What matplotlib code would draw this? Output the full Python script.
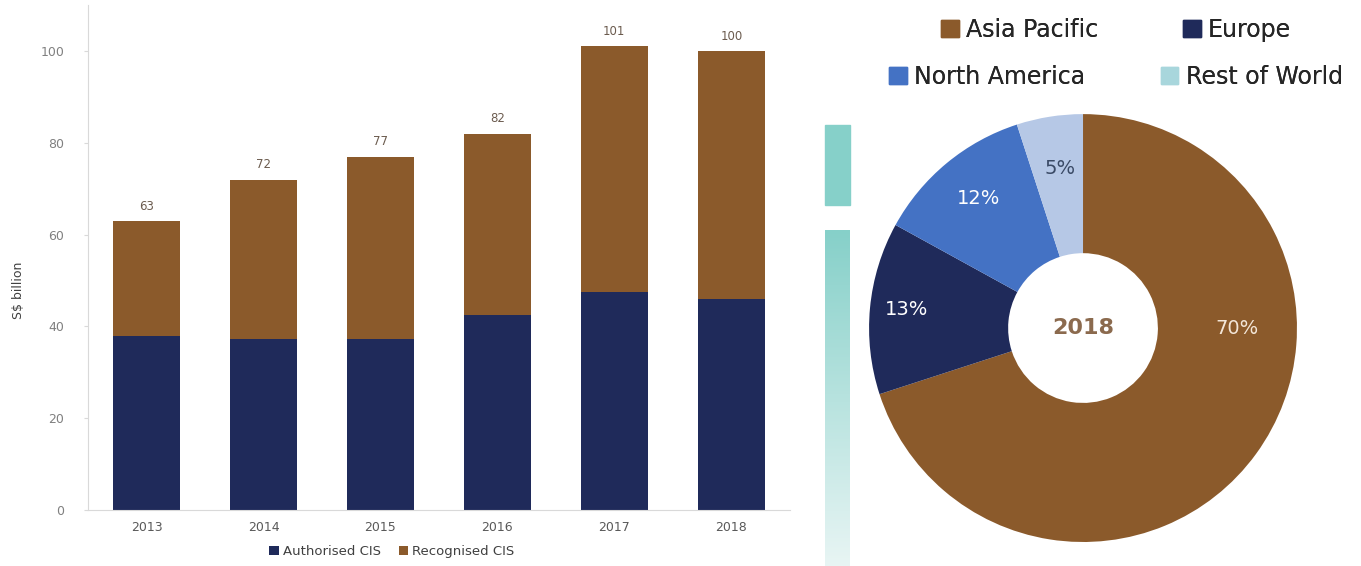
import matplotlib.pyplot as plt
import numpy as np
from matplotlib.colors import LinearSegmentedColormap
from matplotlib.patches import Patch, Rectangle

# Collective investment scheme assets, S$ billion
years = ['2013', '2014', '2015', '2016', '2017', '2018']
authorised = [38, 37.3, 37.3, 42.5, 47.5, 46]
recognised = [25, 34.7, 39.7, 39.5, 53.5, 54]
totals = [63, 72, 77, 82, 101, 100]

# Regional split of 2018 assets
regions = ['Asia Pacific', 'Europe', 'North America', 'Rest of World']
shares = [70, 13, 12, 5]

NAVY = '#1f2a5a'
BROWN = '#8b5a2b'
BLUE = '#4472c4'
PALE = '#b6c8e6'
CYAN = '#a8d6dc'


def main():
    fig = plt.figure(figsize=(13.61, 5.66), dpi=100)

    # Stacked bars
    ax = fig.add_axes([0.0647, 0.0989, 0.5156, 0.892])
    x = np.arange(len(years))
    ax.bar(x, authorised, width=0.57, color=NAVY, label='Authorised CIS')
    ax.bar(x, recognised, width=0.57, bottom=authorised, color=BROWN,
           label='Recognised CIS')
    for xi, tot in zip(x, totals):
        ax.annotate(f'{tot}', (xi, tot), xytext=(0, 6), textcoords='offset points',
                    ha='center', va='bottom', fontsize=8.5, color='#6b5b4e')
    ax.set_xlim(-0.5, len(years) - 0.5)
    ax.set_ylim(0, 110)
    ax.set_yticks(range(0, 101, 20))
    ax.set_xticks(x)
    ax.set_xticklabels(years)
    ax.tick_params(axis='y', length=3, color='#d9d9d9', labelsize=9,
                   labelcolor='#808080', pad=14)
    ax.tick_params(axis='x', length=0, labelsize=9, labelcolor='#595959', pad=8)
    for side in ['top', 'right']:
        ax.spines[side].set_visible(False)
    for side in ['left', 'bottom']:
        ax.spines[side].set_color('#d9d9d9')
    ax.set_ylabel('S$ billion', fontsize=9, color='#404040')
    ax.yaxis.set_label_coords(-0.09, 0.436)
    ax.legend(loc='center', bbox_to_anchor=(0.433, -0.083), ncol=2,
              frameon=False, fontsize=9.5, handlelength=0.7, handleheight=0.7,
              handletextpad=0.3, columnspacing=1.4, labelcolor='#404040')

    # Decorative strips on the left edge of the donut panel
    fig.patches.append(Rectangle((825 / 1361, 1 - 205 / 566), 25 / 1361, 80 / 566,
                                 transform=fig.transFigure, color='#86d0c9',
                                 zorder=0))
    strip = fig.add_axes([825 / 1361, 0, 25 / 1361, 1 - 230 / 566])
    grad = np.linspace(0, 1, 256).reshape(-1, 1)
    cmap = LinearSegmentedColormap.from_list('strip', ['#86d0c9', '#e8f5f4'])
    strip.imshow(grad, aspect='auto', cmap=cmap, extent=(0, 1, 0, 1),
                 origin='upper')
    strip.axis('off')

    # Donut
    pax = fig.add_axes([0.6385, 0.0424, 0.3145, 0.756])
    wedges, _ = pax.pie(shares, colors=[BROWN, NAVY, BLUE, PALE], startangle=90,
                        counterclock=False, radius=1,
                        wedgeprops=dict(width=0.65, edgecolor='none'))
    pax.set_xlim(-1, 1)
    pax.set_ylim(-1, 1)
    label_pos = [(0.72, 0.0), (-0.827, 0.089), (-0.49, 0.607), (-0.107, 0.748)]
    label_col = ['#f3e6d8', 'white', 'white', '#3a4a66']
    for share, (lx, ly), c in zip(shares, label_pos, label_col):
        pax.text(lx, ly, f'{share}%', ha='center', va='center', fontsize=14,
                 color=c)
    pax.text(0, 0, '2018', ha='center', va='center', fontsize=16,
             fontweight='bold', color='#8b6a4e')

    # Legend rows, each centred above the donut
    legend_cols = [BROWN, NAVY, BLUE, CYAN]
    handles = [Patch(color=c, label=r) for c, r in zip(legend_cols, regions)]
    row_y = [1 - 30 / 566, 1 - 77 / 566]
    for i, y in enumerate(row_y):
        leg = fig.legend(handles=handles[2 * i:2 * i + 2], loc='center',
                         bbox_to_anchor=(1116 / 1361, y), ncol=2, frameon=False,
                         fontsize=17, handlelength=0.75, handleheight=0.75,
                         handletextpad=0.3, columnspacing=3.6 - 0.4 * i,
                         labelcolor='#262626')
        fig.add_artist(leg)

    fig.savefig('out.png', dpi=100)


if __name__ == '__main__':
    main()
